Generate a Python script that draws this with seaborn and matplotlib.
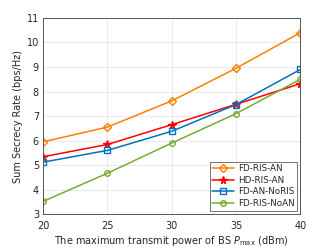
import matplotlib.pyplot as plt
import pandas as pd
import seaborn as sns

power = [20, 25, 30, 35, 40]
fd_ris_an = [5.95, 6.55, 7.62, 8.95, 10.4]
hd_ris_an = [5.34, 5.84, 6.65, 7.48, 8.32]
fd_an_noris = [5.12, 5.6, 6.38, 7.47, 8.9]
fd_ris_noan = [3.52, 4.67, 5.9, 7.1, 8.5]

labels = ["FD-RIS-AN", "HD-RIS-AN", "FD-AN-NoRIS", "FD-RIS-NoAN"]
colors = ["#FF8000", "#FF0000", "#0072BD", "#77AC30"]
markers = ["D", "*", "s", "o"]
fills = ["none", None, "none", "none"]

df = pd.DataFrame({
    "power": power * 4,
    "rate": fd_ris_an + hd_ris_an + fd_an_noris + fd_ris_noan,
    "scheme": sum([[l] * len(power) for l in labels], []),
})

sns.set_style("whitegrid")
plt.rcParams["font.family"] = ["DejaVu Sans"]

fig, ax = plt.subplots(figsize=(3.32, 2.49), dpi=100)
for lab, col, mk, fc in zip(labels, colors, markers, fills):
    sub = df[df.scheme == lab]
    sns.lineplot(
        data=sub, x="power", y="rate", ax=ax, color=col, marker=mk,
        markersize=4 if mk != "*" else 5.5, markerfacecolor=fc if fc else col,
        markeredgecolor=col, markeredgewidth=1.0, linewidth=1.1, label=lab,
    )

ax.set_xlim(20, 40)
ax.set_ylim(3, 11)
ax.set_xticks(power)
ax.set_yticks(range(3, 12))
ax.tick_params(axis="x", labelsize=7, length=0, pad=5)
ax.tick_params(axis="y", labelsize=7, length=0, pad=3)
ax.set_xlabel("The maximum transmit power of BS $P_{\\mathrm{max}}$ (dBm)", fontsize=7, labelpad=2)
ax.set_ylabel("Sum Secrecy Rate (bps/Hz)", fontsize=7, labelpad=3)
ax.grid(True, color="#e6e6e6", linewidth=0.6)
for s in ax.spines.values():
    s.set_color("#555555")
    s.set_linewidth(0.7)

leg = ax.legend(loc="lower right", fontsize=6.3, frameon=True, fancybox=False,
                edgecolor="#333333", handlelength=2.5, borderpad=0.3,
                labelspacing=0.3, handletextpad=0.4, borderaxespad=0.4)
leg.get_frame().set_linewidth(0.6)

fig.subplots_adjust(left=0.13, right=0.905, top=0.928, bottom=0.14)
fig.savefig("out.png", dpi=100)
